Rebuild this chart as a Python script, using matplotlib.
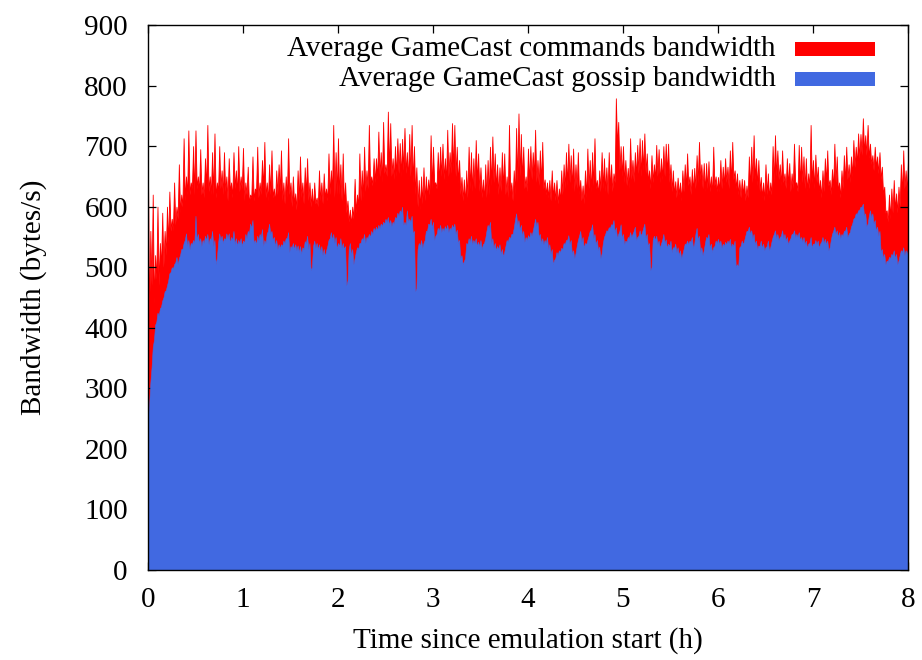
import numpy as np
import matplotlib
matplotlib.use("Agg")
import matplotlib.pyplot as plt
from matplotlib.patches import Rectangle

plt.rcParams["font.family"] = ["Liberation Serif", "DejaVu Serif"]

# Sampling step of the bandwidth averages (hours)
STEP = 0.025

# Total bandwidth (commands + gossip), local maxima at t = k*STEP
total_peak_h0 = [655, 560, 620, 520, 600, 540, 590, 560, 600, 625, 580, 640, 600, 670, 620, 713, 650, 726, 640, 700,
                 726, 650, 695, 640, 680, 735, 650, 690, 721, 640, 700, 660, 690, 650, 680, 640, 690, 660, 700, 650]
total_peak_h1 = [697, 640, 666, 620, 683, 630, 699, 640, 677, 707, 640, 670, 693, 630, 660, 670, 693, 640, 650, 713,
                 640, 650, 622, 660, 683, 640, 665, 680, 640, 630, 640, 615, 660, 640, 655, 630, 688, 660, 735, 690]
total_peak_h2 = [713, 670, 688, 640, 610, 595, 600, 646, 620, 688, 660, 699, 660, 735, 650, 680, 680, 724, 690, 740,
                 670, 757, 738, 680, 700, 713, 705, 712, 730, 690, 720, 735, 700, 665, 644, 650, 665, 650, 645, 718]
total_peak_h3 = [699, 640, 690, 699, 704, 680, 727, 690, 738, 735, 699, 677, 649, 645, 660, 699, 690, 680, 710, 688,
                 665, 645, 670, 677, 699, 716, 688, 670, 665, 690, 688, 650, 735, 640, 660, 730, 754, 720, 699, 650]
total_peak_h4 = [696, 700, 690, 727, 677, 693, 707, 645, 640, 644, 660, 640, 644, 630, 660, 670, 690, 704, 685, 696,
                 670, 690, 644, 635, 660, 696, 677, 690, 713, 644, 660, 690, 680, 665, 690, 670, 655, 779, 740, 700]
total_peak_h5 = [700, 677, 664, 713, 677, 690, 702, 713, 710, 721, 688, 660, 685, 670, 702, 695, 680, 700, 704, 704,
                 670, 660, 642, 648, 640, 660, 670, 688, 650, 662, 664, 685, 707, 670, 672, 672, 675, 650, 699, 650]
total_peak_h6 = [649, 677, 666, 680, 666, 693, 707, 660, 655, 644, 646, 644, 635, 683, 699, 718, 680, 677, 649, 640,
                 670, 655, 640, 700, 718, 693, 670, 693, 655, 680, 672, 655, 704, 640, 702, 699, 683, 680, 655, 735]
total_peak_h7 = [677, 686, 666, 644, 660, 680, 693, 644, 662, 704, 683, 640, 660, 685, 699, 670, 683, 710, 699, 721,
                 720, 746, 718, 735, 704, 685, 699, 683, 690, 666, 633, 594, 620, 630, 644, 622, 633, 670, 693, 660, 677]

# Total bandwidth, local minima at t = (k + 0.5)*STEP
total_trough_h0 = [420, 470, 440, 480, 470, 500, 500, 520, 540, 560, 560, 570, 580, 590, 600, 610, 620, 620, 630, 620,
                   630, 625, 620, 615, 630, 625, 620, 620, 615, 625, 630, 620, 625, 610, 625, 615, 630, 620, 625, 630]
total_trough_h1 = [610, 620, 605, 615, 610, 625, 615, 620, 630, 615, 610, 620, 615, 605, 620, 625, 610, 605, 615, 620,
                   600, 605, 595, 610, 615, 605, 620, 610, 600, 595, 605, 600, 610, 605, 615, 610, 620, 625, 615, 620]
total_trough_h2 = [620, 610, 600, 590, 575, 570, 580, 590, 600, 610, 615, 625, 630, 640, 635, 640, 645, 650, 640, 655,
                   650, 660, 650, 645, 650, 655, 650, 660, 655, 645, 650, 640, 620, 600, 595, 605, 610, 615, 620, 630]
total_trough_h3 = [640, 630, 640, 650, 645, 640, 650, 655, 660, 650, 640, 620, 610, 605, 615, 630, 625, 630, 640, 625,
                   615, 610, 615, 620, 635, 640, 630, 620, 625, 630, 620, 615, 625, 610, 620, 640, 650, 645, 630, 625]
total_trough_h4 = [640, 645, 650, 640, 635, 640, 630, 620, 615, 610, 615, 610, 605, 610, 620, 630, 635, 640, 630, 625,
                   630, 620, 610, 605, 615, 630, 625, 635, 630, 620, 625, 630, 625, 620, 630, 625, 640, 700, 660, 650]
total_trough_h5 = [640, 635, 630, 645, 640, 650, 655, 650, 660, 655, 640, 630, 640, 645, 650, 640, 645, 650, 655, 640,
                   625, 620, 615, 620, 610, 625, 630, 635, 620, 625, 630, 640, 645, 630, 625, 630, 625, 620, 635, 625]
total_trough_h6 = [625, 630, 635, 640, 630, 640, 645, 630, 620, 615, 620, 610, 615, 630, 640, 645, 635, 625, 615, 610,
                   620, 615, 620, 640, 650, 645, 635, 640, 630, 635, 625, 630, 640, 625, 635, 640, 630, 625, 630, 640]
total_trough_h7 = [630, 640, 625, 615, 625, 640, 635, 620, 630, 640, 625, 615, 630, 640, 645, 640, 650, 665, 670, 680,
                   685, 690, 685, 680, 670, 660, 665, 655, 645, 620, 590, 575, 580, 590, 595, 590, 600, 620, 630, 625]

# Gossip bandwidth at t = k*STEP
gossip_h0 = [250, 310, 368, 405, 425, 432, 445, 460, 470, 490, 500, 505, 517, 515, 530, 540, 556, 545, 540, 545,
             585, 555, 548, 545, 552, 555, 548, 560, 545, 515, 556, 552, 548, 556, 556, 550, 560, 548, 545, 548]
gossip_h1 = [544, 555, 560, 572, 578, 545, 552, 555, 563, 545, 556, 572, 560, 550, 545, 538, 538, 544, 548, 558,
             535, 540, 538, 536, 535, 533, 543, 552, 540, 500, 544, 540, 538, 535, 530, 528, 545, 558, 555, 550]
gossip_h2 = [540, 548, 540, 535, 478, 540, 530, 515, 533, 540, 548, 555, 550, 555, 560, 565, 567, 570, 572, 575,
             580, 583, 578, 575, 583, 590, 594, 600, 575, 594, 580, 585, 560, 465, 540, 545, 540, 560, 572, 580]
gossip_h3 = [575, 552, 565, 570, 565, 568, 570, 565, 570, 572, 562, 545, 520, 510, 540, 548, 552, 545, 548, 542,
             545, 538, 548, 570, 575, 548, 540, 535, 538, 530, 525, 545, 550, 555, 565, 589, 578, 570, 560, 550]
gossip_h4 = [553, 558, 560, 580, 575, 555, 548, 545, 550, 538, 530, 512, 525, 528, 532, 540, 545, 553, 545, 528,
             523, 545, 560, 550, 540, 545, 560, 571, 555, 545, 534, 523, 550, 561, 566, 571, 578, 566, 555, 571]
gossip_h5 = [555, 544, 550, 558, 555, 567, 550, 561, 558, 572, 555, 540, 500, 552, 552, 544, 539, 555, 546, 539,
             544, 533, 539, 533, 528, 522, 539, 544, 544, 550, 539, 565, 552, 533, 528, 550, 555, 539, 533, 544]
gossip_h6 = [547, 544, 539, 542, 544, 547, 539, 544, 505, 533, 544, 544, 560, 567, 561, 555, 544, 536, 544, 539,
             533, 544, 533, 550, 561, 555, 550, 561, 555, 550, 544, 555, 561, 555, 558, 550, 550, 544, 539, 550]
gossip_h7 = [539, 545, 544, 539, 550, 547, 544, 533, 555, 567, 561, 558, 555, 560, 567, 555, 567, 580, 589, 594,
             600, 605, 589, 572, 594, 589, 578, 567, 560, 530, 522, 511, 517, 522, 528, 522, 511, 528, 533, 528, 530]

# Gossip bandwidth, local minima at t = (k + 0.5)*STEP
gossip_trough_h0 = [275, 335, 380, 410, 420, 435, 450, 462, 478, 492, 498, 508, 505, 520, 530, 545, 535, 530, 538, 540,
                    545, 540, 535, 540, 545, 538, 545, 535, 505, 540, 545, 540, 545, 548, 540, 545, 538, 535, 540, 535]
gossip_trough_h1 = [540, 548, 555, 565, 540, 538, 545, 550, 535, 540, 560, 555, 545, 535, 530, 532, 535, 540, 548, 525,
                    532, 530, 528, 525, 522, 530, 540, 530, 495, 535, 532, 530, 525, 520, 518, 535, 548, 545, 540, 530]
gossip_trough_h2 = [535, 532, 530, 470, 530, 520, 505, 525, 530, 540, 545, 540, 548, 550, 555, 560, 562, 565, 568, 572,
                    575, 570, 568, 572, 580, 585, 590, 570, 570, 575, 575, 555, 460, 530, 535, 532, 545, 560, 570, 565]
gossip_trough_h3 = [545, 555, 560, 558, 560, 562, 558, 562, 565, 555, 540, 515, 505, 515, 538, 542, 538, 540, 535, 535,
                    530, 540, 560, 565, 540, 532, 528, 530, 522, 518, 535, 542, 548, 555, 578, 570, 562, 552, 542, 545]
gossip_trough_h4 = [548, 552, 570, 568, 550, 540, 538, 540, 530, 522, 505, 515, 520, 525, 530, 538, 545, 538, 522, 515,
                    535, 552, 542, 532, 538, 552, 562, 548, 538, 528, 515, 540, 555, 560, 565, 570, 558, 548, 560, 548]
gossip_trough_h5 = [538, 542, 548, 550, 560, 545, 552, 552, 565, 548, 535, 495, 545, 545, 538, 532, 545, 540, 532, 535,
                    525, 532, 525, 520, 515, 530, 538, 538, 542, 532, 555, 545, 525, 520, 540, 548, 532, 525, 535, 540]
gossip_trough_h6 = [538, 532, 535, 538, 540, 532, 535, 500, 500, 535, 538, 552, 560, 555, 548, 538, 530, 535, 532, 528,
                    535, 528, 542, 555, 548, 545, 552, 548, 544, 538, 548, 555, 550, 550, 545, 542, 538, 532, 540, 532]
gossip_trough_h7 = [538, 538, 532, 542, 540, 538, 528, 545, 560, 555, 550, 548, 552, 560, 550, 558, 572, 582, 588, 595,
                    600, 585, 568, 585, 582, 572, 560, 552, 525, 515, 505, 510, 515, 520, 515, 505, 520, 525, 520, 522]

x_ticks = [0, 1, 2, 3, 4, 5, 6, 7, 8]
y_ticks = [0, 100, 200, 300, 400, 500, 600, 700, 800, 900]
label_commands = "Average GameCast commands bandwidth"
label_gossip = "Average GameCast gossip bandwidth"

RED = "#ff0000"
BLUE = "#4169e1"
FS = 21


def interleave(peaks, troughs):
    """Merge samples at k*STEP with samples at (k+0.5)*STEP into one series."""
    n = len(peaks) + len(troughs)
    t = np.empty(n)
    v = np.empty(n)
    t[0::2] = np.arange(len(peaks)) * STEP
    t[1::2] = (np.arange(len(troughs)) + 0.5) * STEP
    v[0::2] = peaks
    v[1::2] = troughs
    return t, v


total_peak = (total_peak_h0 + total_peak_h1 + total_peak_h2 + total_peak_h3 +
              total_peak_h4 + total_peak_h5 + total_peak_h6 + total_peak_h7)
total_trough = (total_trough_h0 + total_trough_h1 + total_trough_h2 + total_trough_h3 +
                total_trough_h4 + total_trough_h5 + total_trough_h6 + total_trough_h7)
gossip = (gossip_h0 + gossip_h1 + gossip_h2 + gossip_h3 +
          gossip_h4 + gossip_h5 + gossip_h6 + gossip_h7)
gossip_trough = (gossip_trough_h0 + gossip_trough_h1 + gossip_trough_h2 + gossip_trough_h3 +
                 gossip_trough_h4 + gossip_trough_h5 + gossip_trough_h6 + gossip_trough_h7)

t_total, total = interleave(total_peak, total_trough)
t_gossip, gossip_all = interleave(gossip, gossip_trough)

fig = plt.figure(figsize=(9.22, 6.60), dpi=100)
ax = fig.add_axes([0.1605, 0.1364, 0.8243, 0.8257])

ax.fill_between(t_total, 0, total, color=RED, lw=0.6, edgecolor=RED, zorder=1)
ax.fill_between(t_gossip, 0, gossip_all, color=BLUE, lw=0.4, edgecolor=BLUE, zorder=2)

ax.set_xlim(0, 8)
ax.set_ylim(0, 900)
ax.set_xticks(x_ticks)
ax.set_yticks(y_ticks)
ax.tick_params(direction="in", length=6, width=0.9, labelsize=FS,
               top=True, right=True)
ax.tick_params(axis="x", pad=12.5)
ax.tick_params(axis="y", pad=14.5)
for s in ax.spines.values():
    s.set_linewidth(1.0)
    s.set_zorder(5)

ax.set_xlabel("Time since emulation start (h)", fontsize=FS, labelpad=10)
ax.set_ylabel("Bandwidth (bytes/s)", fontsize=FS, labelpad=27)

# Key in gnuplot style: right-justified text followed by a sample box
key_rows = [(label_commands, RED, 0.956), (label_gossip, BLUE, 0.901)]
for text, color, yc in key_rows:
    ax.text(0.826, yc, text, transform=ax.transAxes, ha="right", va="center",
            fontsize=FS, zorder=6)
    ax.add_patch(Rectangle((0.851, yc - 0.0135), 0.106, 0.027, transform=ax.transAxes,
                           facecolor=color, edgecolor="none", zorder=6))

fig.savefig("out.png", dpi=100)
